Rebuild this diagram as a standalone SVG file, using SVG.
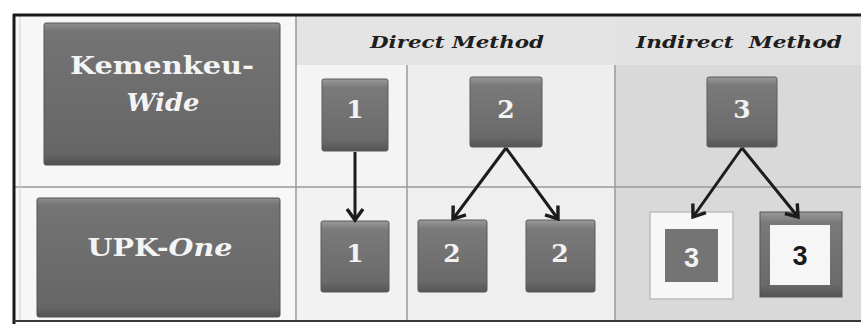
<svg xmlns="http://www.w3.org/2000/svg" width="861" height="324" viewBox="0 0 861 324">
<defs>
<style>
.lbl{font-family:"DejaVu Serif","Liberation Serif",serif;font-weight:bold;fill:#f4f4f4;text-anchor:middle}
.num{font-family:"DejaVu Serif","Liberation Serif",serif;font-weight:bold;font-size:25px;fill:#f2f2f2;text-anchor:middle}
.sans{font-family:"Liberation Sans",Arial,sans-serif;font-weight:bold;font-size:27px;text-anchor:middle}
.hdr{font-family:"DejaVu Serif","Liberation Serif",serif;font-weight:bold;font-style:italic;font-size:17px;fill:#1e1e1e;text-anchor:middle}
.box{fill:url(#g);stroke:#5a5a5a;stroke-width:1}
.big{fill:url(#gb);stroke:#555;stroke-width:1}
.conn{stroke:#1c1c1c;stroke-width:3;fill:none;marker-end:url(#ah)}
.grid{stroke:#9a9a9a;stroke-width:1.5;fill:none}
</style>
<linearGradient id="g" x1="0" y1="0" x2="0" y2="1">
<stop offset="0" stop-color="#9a9a9a"/>
<stop offset="0.12" stop-color="#7a7a7a"/>
<stop offset="0.85" stop-color="#6a6a6a"/>
<stop offset="1" stop-color="#545454"/>
</linearGradient>
<linearGradient id="gb" x1="0" y1="0" x2="0" y2="1">
<stop offset="0" stop-color="#8e8e8e"/>
<stop offset="0.06" stop-color="#747474"/>
<stop offset="0.92" stop-color="#666"/>
<stop offset="1" stop-color="#505050"/>
</linearGradient>
<marker id="ah" markerUnits="userSpaceOnUse" markerWidth="24" markerHeight="24" viewBox="-14 -12 18 24" refX="0" refY="0" orient="auto">
<path d="M-11,-8 L0,0 L-11,8" fill="none" stroke="#1c1c1c" stroke-width="3.4" stroke-linejoin="miter"/>
</marker>
</defs>

<rect x="0" y="0" width="861" height="324" fill="#ffffff"/>

<g id="background">
<rect x="15" y="16" width="846" height="304" fill="#f7f7f7"/>
<rect x="296" y="16" width="319" height="49" fill="#e4e4e4"/>
<rect x="615" y="16" width="246" height="49" fill="#e2e2e2"/>
<rect x="297" y="65" width="110" height="122" fill="#f4f4f4"/>
<rect x="407" y="65" width="208" height="122" fill="#eeeeee"/>
<rect x="297" y="187" width="110" height="133" fill="#f2f2f2"/>
<rect x="407" y="187" width="208" height="133" fill="#efefef"/>
<rect x="615" y="65" width="246" height="255" fill="#d9d9d9"/>
<line class="grid" x1="15" y1="187" x2="861" y2="187"/>
<line class="grid" x1="296" y1="16" x2="296" y2="320"/>
<line class="grid" x1="407" y1="65" x2="407" y2="320" stroke="#c4c4c4"/>
<line class="grid" x1="615" y1="65" x2="615" y2="320"/>
<line x1="20" y1="16" x2="20" y2="320" stroke="#d0d0d0" stroke-width="1"/>
<line x1="13" y1="15" x2="861" y2="15" stroke="#1a1a1a" stroke-width="3"/>
<line x1="14" y1="14" x2="14" y2="324" stroke="#1a1a1a" stroke-width="3"/>
<line x1="14" y1="321" x2="861" y2="321" stroke="#3a3a3a" stroke-width="2"/>
</g>

<g id="headers">
<text class="hdr" x="457" y="48" textLength="174" lengthAdjust="spacingAndGlyphs">Direct Method</text>
<text class="hdr" x="739" y="48" textLength="206" lengthAdjust="spacingAndGlyphs" xml:space="preserve">Indirect  Method</text>
</g>

<g id="kemenkeu-wide">
<rect class="big" x="44" y="23" width="236" height="142" rx="2"/>
<text class="lbl" x="162" y="74" font-size="25" textLength="184" lengthAdjust="spacingAndGlyphs">Kemenkeu-</text>
<text class="lbl" x="163" y="111" font-size="25" font-style="italic" textLength="73" lengthAdjust="spacingAndGlyphs">Wide</text>
</g>

<g id="upk-one">
<rect class="big" x="37" y="198" width="243" height="119" rx="2"/>
<text class="lbl" x="160" y="256" font-size="24" textLength="145" lengthAdjust="spacingAndGlyphs">UPK-<tspan font-style="italic">One</tspan></text>
</g>

<g id="k1">
<rect class="box" x="322" y="79" width="66" height="72" rx="2"/>
<text class="num" x="355" y="118">1</text>
</g>
<g id="k2">
<rect class="box" x="470" y="77" width="72" height="70" rx="2"/>
<text class="num" x="506" y="118">2</text>
</g>
<g id="k3">
<rect class="box" x="707" y="77" width="70" height="70" rx="2"/>
<text class="num" x="742" y="118">3</text>
</g>

<g id="u1">
<rect class="box" x="321" y="221" width="68" height="71" rx="2"/>
<text class="num" x="355" y="262">1</text>
</g>
<g id="u2a">
<rect class="box" x="418" y="220" width="69" height="72" rx="2"/>
<text class="num" x="452" y="262">2</text>
</g>
<g id="u2b">
<rect class="box" x="526" y="220" width="69" height="72" rx="2"/>
<text class="num" x="560" y="262">2</text>
</g>
<g id="u3a">
<rect x="650" y="212" width="83" height="87" fill="#f7f7f7" stroke="#bdbdbd" stroke-width="1.5"/>
<rect x="665" y="229" width="53" height="53" fill="#747474"/>
<text class="sans" x="691.5" y="267" fill="#f2f2f2" font-size="24">3</text>
</g>
<g id="u3b">
<rect x="760" y="212" width="82" height="85" fill="url(#g)" stroke="#555" stroke-width="1"/>
<rect x="770" y="225" width="60" height="60" fill="#f6f6f6"/>
<text class="sans" x="800" y="265" fill="#1a1a1a">3</text>
</g>

<g id="connectors">
<line class="conn" x1="355" y1="152" x2="355" y2="220"/>
<line class="conn" x1="506" y1="148" x2="453" y2="219"/>
<line class="conn" x1="506" y1="148" x2="558" y2="219"/>
<line class="conn" x1="742" y1="148" x2="693" y2="217"/>
<line class="conn" x1="742" y1="148" x2="798" y2="217"/>
</g>
</svg>
